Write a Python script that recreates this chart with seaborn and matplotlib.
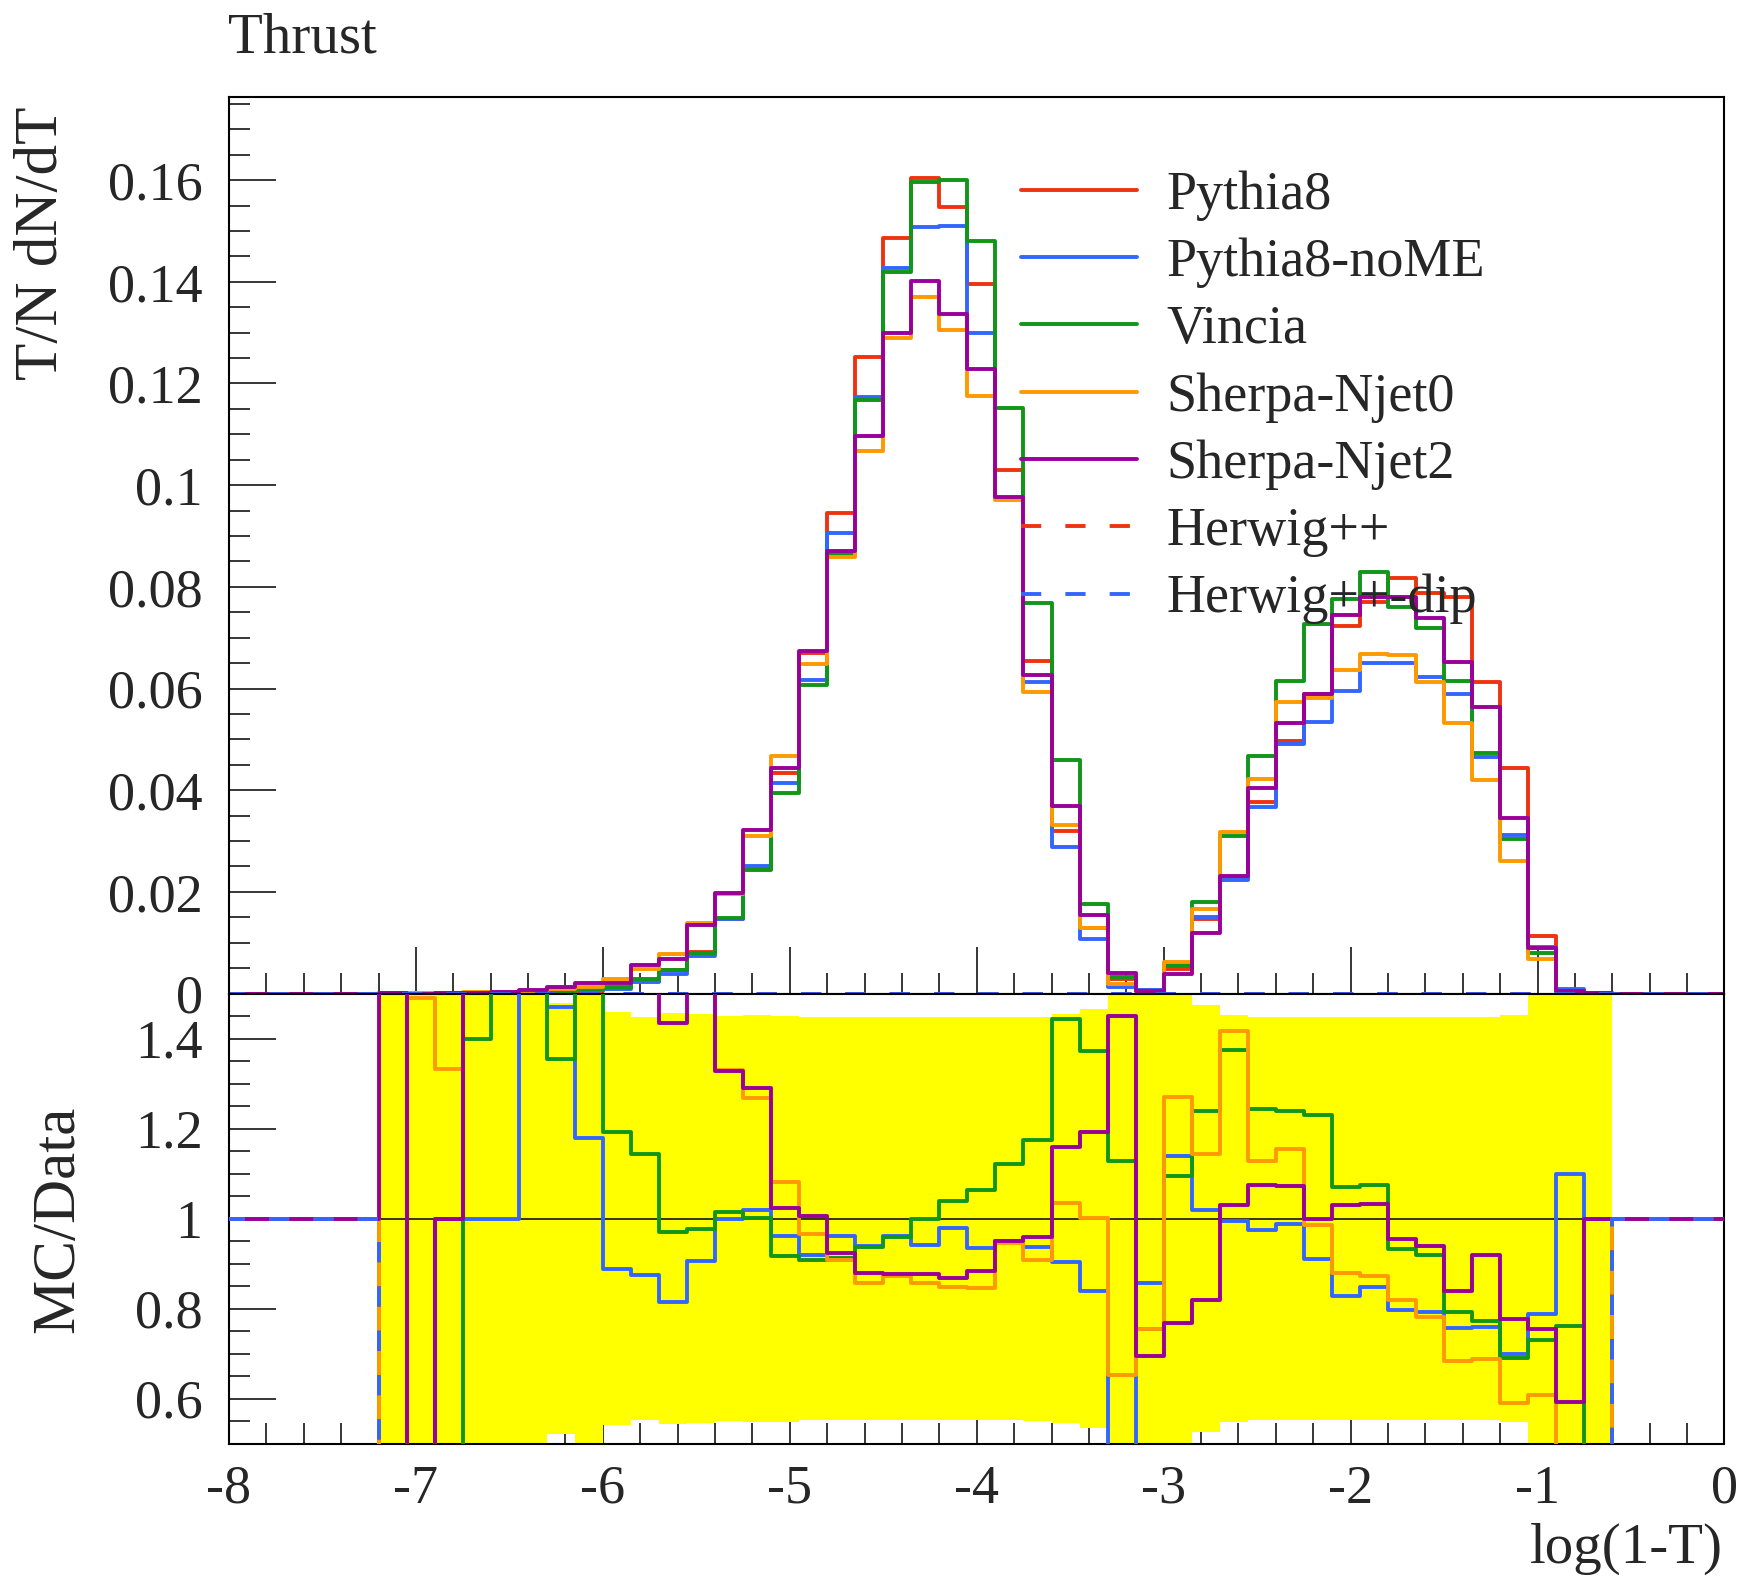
import numpy as np
import matplotlib
matplotlib.use("Agg")
import matplotlib.pyplot as plt
from matplotlib.ticker import MultipleLocator, FuncFormatter
import seaborn as sns

# ---- binning in log(1-T) ----
x_first_edge = -7.2
bin_width = 0.15
n_bins = 44

# ---- T/N dN/dT, one value per bin ----
pythia8 = [0.00003, 0.00005, 0.00008, 0.0001, 0.00015, 0.0002, 0.0004, 0.0006, 0.0011, 0.0025,
           0.0047, 0.0082, 0.0147, 0.0246, 0.0433, 0.0670, 0.0945, 0.1252, 0.1486, 0.1604,
           0.1547, 0.1395, 0.1030, 0.0655, 0.0319, 0.0129, 0.0028, 0.0008, 0.0049, 0.0146,
           0.0225, 0.0376, 0.0497, 0.0590, 0.0723, 0.0771, 0.0817, 0.0787, 0.0781, 0.0613,
           0.0443, 0.0114, 0.0008, 0.0001]
pythia8_nome = [0.0, 0.0, 0.00008, 0.0001, 0.00015, 0.0003, 0.0006, 0.0007, 0.0010, 0.0022,
                0.0038, 0.0074, 0.0147, 0.0251, 0.0415, 0.0617, 0.0905, 0.1173, 0.1427, 0.1508,
                0.1509, 0.1300, 0.0975, 0.0612, 0.0289, 0.0108, 0.0012, 0.0007, 0.0056, 0.0150,
                0.0223, 0.0367, 0.0491, 0.0535, 0.0596, 0.0650, 0.0650, 0.0623, 0.0589, 0.0466,
                0.0312, 0.0091, 0.0009, 0.0001]
vincia = [0.0, 0.0, 0.0, 0.00014, 0.0003, 0.0004, 0.00054, 0.0010, 0.0013, 0.0029,
          0.0046, 0.0080, 0.0148, 0.0244, 0.0394, 0.0606, 0.0865, 0.1168, 0.1419, 0.1597,
          0.1600, 0.1480, 0.1151, 0.0769, 0.0460, 0.0177, 0.0032, 0.0006, 0.0054, 0.0181,
          0.0310, 0.0467, 0.0615, 0.0727, 0.0777, 0.0830, 0.0760, 0.0720, 0.0615, 0.0473,
          0.0305, 0.0080, 0.0006, 0.0]
sherpa_njet0 = [0.0, 0.00008, 0.0001, 0.0003, 0.0004, 0.0006, 0.0009, 0.0013, 0.0028, 0.0049,
                0.0078, 0.0139, 0.0195, 0.0310, 0.0468, 0.0649, 0.0859, 0.1068, 0.1290, 0.1371,
                0.1305, 0.1176, 0.0971, 0.0593, 0.0332, 0.0130, 0.0019, 0.0006, 0.0063, 0.0166,
                0.0318, 0.0423, 0.0574, 0.0581, 0.0636, 0.0668, 0.0665, 0.0613, 0.0532, 0.0420,
                0.0261, 0.0069, 0.0003, 0.0]
sherpa_njet2 = [0.0001, 0.0, 0.00008, 0.0002, 0.0003, 0.0007, 0.0012, 0.0020, 0.0021, 0.0056,
                0.0069, 0.0135, 0.0197, 0.0321, 0.0444, 0.0673, 0.0870, 0.1096, 0.1299, 0.1401,
                0.1337, 0.1229, 0.0977, 0.0627, 0.0369, 0.0154, 0.0041, 0.0006, 0.0039, 0.0119,
                0.0231, 0.0405, 0.0532, 0.0589, 0.0745, 0.0781, 0.0781, 0.0738, 0.0653, 0.0563,
                0.0345, 0.0089, 0.0005, 0.0001]
herwig = [0.0] * n_bins
herwig_dip = [0.0] * n_bins

# ---- ratio to the reference, one value per bin ----
ratio_nome = [0.0, 0.0, 1.0, 1.0, 1.0, 1.6, 1.470, 1.178, 0.887, 0.874,
              0.814, 0.905, 1.0, 1.018, 0.961, 0.919, 0.961, 0.938, 0.962, 0.942,
              0.978, 0.934, 0.950, 0.936, 0.903, 0.839, 0.4, 0.857, 1.138, 1.020,
              0.994, 0.974, 0.988, 0.910, 0.827, 0.848, 0.796, 0.792, 0.757, 0.760,
              0.700, 0.787, 1.099, 1.0]
ratio_vincia = [0.0, 0.0, 0.0, 1.40, 1.6, 1.6, 1.354, 1.6, 1.192, 1.144,
                0.970, 0.977, 1.014, 1.001, 0.916, 0.908, 0.913, 0.937, 0.959, 0.998,
                1.038, 1.063, 1.121, 1.174, 1.443, 1.373, 1.127, 0.755, 1.094, 1.238,
                1.375, 1.244, 1.238, 1.231, 1.070, 1.075, 0.933, 0.918, 0.792, 0.772,
                0.690, 0.731, 0.761, 0.0]
ratio_njet0 = [0.0, 1.49, 1.333, 1.6, 1.6, 1.6, 1.6, 1.6, 1.6, 1.6,
               1.6, 1.6, 1.33, 1.268, 1.081, 0.966, 0.909, 0.856, 0.872, 0.857,
               0.847, 0.846, 0.946, 0.908, 1.034, 1.001, 0.653, 0.755, 1.271, 1.143,
               1.416, 1.129, 1.154, 0.985, 0.880, 0.873, 0.818, 0.781, 0.683, 0.687,
               0.591, 0.609, 0.375, 0.0]
ratio_njet2 = [1.6, 0.0, 1.0, 1.6, 1.6, 1.6, 1.6, 1.6, 1.6, 1.6,
               1.434, 1.6, 1.329, 1.290, 1.024, 1.005, 0.924, 0.878, 0.876, 0.876,
               0.867, 0.883, 0.950, 0.959, 1.160, 1.192, 1.451, 0.694, 0.767, 0.820,
               1.031, 1.075, 1.072, 0.998, 1.031, 1.033, 0.955, 0.940, 0.839, 0.919,
               0.777, 0.754, 0.592, 1.0]
ratio_herwig = [0.0] * n_bins
ratio_herwig_dip = [0.0] * n_bins

# relative uncertainty of the reference (yellow band)
band_err = [0.6, 0.6, 0.6, 0.6, 0.6, 0.6, 0.478, 0.6, 0.458, 0.448,
            0.456, 0.455, 0.450, 0.452, 0.451, 0.448, 0.448, 0.448, 0.448, 0.448,
            0.448, 0.448, 0.448, 0.449, 0.455, 0.465, 0.6, 0.6, 0.6, 0.475,
            0.452, 0.448, 0.448, 0.448, 0.448, 0.448, 0.448, 0.448, 0.448, 0.448,
            0.452, 0.6, 0.6, 0.6]

labels = ["Pythia8", "Pythia8-noME", "Vincia", "Sherpa-Njet0", "Sherpa-Njet2",
          "Herwig++", "Herwig++-dip"]
colors = ["#ee3311", "#3366ff", "#109618", "#ff9900", "#990099", "#ee3311", "#3366ff"]
dashed = (0, (5.2, 6.2))
styles = ["-", "-", "-", "-", "-", dashed, dashed]
top_series = [pythia8, pythia8_nome, vincia, sherpa_njet0, sherpa_njet2, herwig, herwig_dip]
ratio_series = [None, ratio_nome, ratio_vincia, ratio_njet0, ratio_njet2,
                ratio_herwig, ratio_herwig_dip]

edges = x_first_edge + bin_width * np.arange(n_bins + 1)


def step_xy(values, outside):
    x = np.concatenate([[-8.5], edges, [0.5]])
    y = np.concatenate([[outside], np.asarray(values, float), [outside, outside]])
    return x, y


# ---- style ----
sns.set_style("ticks")
plt.rcParams["font.family"] = ["Liberation Serif", "DejaVu Serif"]
plt.rcParams["axes.unicode_minus"] = False
plt.rcParams["axes.edgecolor"] = "black"
plt.rcParams["axes.linewidth"] = 1.5

FS_TICK = 39
FS_LEG = 39
FS_LAB = 44
LW = 2.8

fig = plt.figure(figsize=(17.44, 15.80), dpi=100)
ax_top = fig.add_axes([0.1313, 0.37114, 0.8575, 0.56766])
ax_rat = fig.add_axes([0.1313, 0.08633, 0.8575, 0.28481])

# ---- main distribution ----
for vals, lab, col, ls in zip(top_series, labels, colors, styles):
    x, y = step_xy(vals, 0.0)
    sns.lineplot(x=x, y=y, ax=ax_top, color=col, linewidth=LW, linestyle=ls,
                 drawstyle="steps-post", estimator=None, sort=False,
                 label=lab, legend=False)

ax_top.set_xlim(-8, 0)
ax_top.set_ylim(0, 0.1764)
ax_top.yaxis.set_major_locator(MultipleLocator(0.02))
ax_top.yaxis.set_minor_locator(MultipleLocator(0.005))
ax_top.xaxis.set_major_locator(MultipleLocator(1))
ax_top.xaxis.set_minor_locator(MultipleLocator(0.2))
ax_top.yaxis.set_major_formatter(
    FuncFormatter(lambda v, p: "0" if abs(v) < 1e-9 else ("%.2f" % v).rstrip("0")))
ax_top.tick_params(axis="x", labelbottom=False)

handles, hlabels = ax_top.get_legend_handles_labels()
ax_top.legend(handles, hlabels, loc="upper left", bbox_to_anchor=(0.5296, 0.918),
              frameon=False, fontsize=FS_LEG, handlelength=2.14, handletextpad=0.55,
              labelspacing=0.31, borderpad=0, borderaxespad=0)

# ---- ratio panel ----
ax_rat.bar(edges[:-1], 2 * np.asarray(band_err), bottom=1 - np.asarray(band_err),
           width=bin_width, align="edge", color="#ffff00", linewidth=0, zorder=1)
ax_rat.axhline(1.0, color="black", linewidth=1.1, zorder=2)
for vals, col, ls in zip(ratio_series, colors, styles):
    if vals is None:
        continue
    x, y = step_xy(vals, 1.0)
    sns.lineplot(x=x, y=y, ax=ax_rat, color=col, linewidth=LW, linestyle=ls,
                 drawstyle="steps-post", estimator=None, sort=False, legend=False,
                 zorder=3)

ax_rat.set_xlim(-8, 0)
ax_rat.set_ylim(0.5, 1.5)
ax_rat.yaxis.set_major_locator(MultipleLocator(0.2))
ax_rat.yaxis.set_minor_locator(MultipleLocator(0.05))
ax_rat.xaxis.set_major_locator(MultipleLocator(1))
ax_rat.xaxis.set_minor_locator(MultipleLocator(0.2))
ax_rat.yaxis.set_major_formatter(FuncFormatter(lambda v, p: "%g" % round(v, 3)))
ax_rat.xaxis.set_major_formatter(FuncFormatter(lambda v, p: "%d" % round(v)))

for ax in (ax_top, ax_rat):
    ax.set_xlabel("")
    ax.set_ylabel("")
    ax.tick_params(which="both", direction="in", top=False, right=False,
                   width=1.1, color="black", labelsize=FS_TICK)
    ax.tick_params(which="major", length=34)
    ax.tick_params(which="minor", length=15)
    ax.tick_params(axis="y", which="both", pad=19)
    ax.tick_params(axis="x", which="both", pad=15)
    for sp in ax.spines.values():
        sp.set_visible(True)
        sp.set_linewidth(1.5)
        sp.set_color("black")

# ---- texts ----
fig.text(0.131, 0.9665, "Thrust", fontsize=41, ha="left", va="baseline")
fig.text(0.024, 0.9329, "T/N dN/dT", fontsize=FS_LAB, rotation=90, ha="center", va="top")
fig.text(0.0333, 0.2285, "MC/Data", fontsize=FS_LAB, rotation=90, ha="center", va="center")
fig.text(0.988, 0.0108, "log(1-T)", fontsize=41, ha="right", va="baseline")

fig.savefig("out.png", dpi=100)
